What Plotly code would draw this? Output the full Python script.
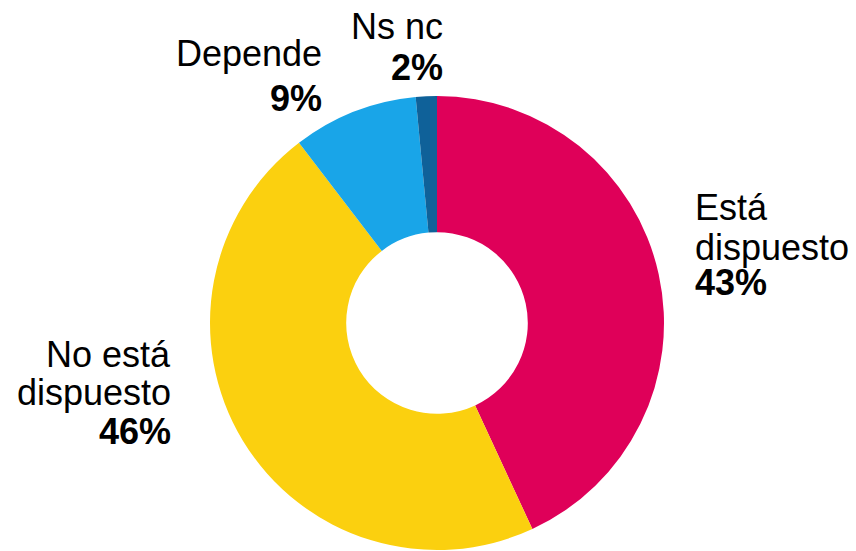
import plotly.graph_objects as go

categories = ["Está dispuesto", "No está dispuesto", "Depende", "Ns nc"]
values = [43.1, 46.5, 8.9, 1.5]
pct_labels = ["43%", "46%", "9%", "2%"]
colors = ["#DF0059", "#FBD00F", "#19A5E8", "#0F6199"]

W, H = 856, 551

fig = go.Figure(go.Pie(
    labels=categories,
    values=values,
    sort=False,
    direction="clockwise",
    rotation=0,
    hole=0.4,
    textinfo="none",
    hoverinfo="label+percent",
    marker=dict(colors=colors, line=dict(color="white", width=0)),
    domain=dict(x=[210 / W, 664 / W], y=[1 / H, 455 / H]),
    showlegend=False,
))

FONT = "Liberation Sans, Arial, sans-serif"
FS = 36

# (text, x_px, y_center_px, anchor, bold)
lines = [
    ("Ns nc", 444, 26, "right", False),
    (pct_labels[3], 444, 68, "right", True),
    ("Depende", 323, 54, "right", False),
    (pct_labels[2], 323, 98, "right", True),
    ("Está", 694, 208, "left", False),
    ("dispuesto", 694, 247, "left", False),
    (pct_labels[0], 694, 282, "left", True),
    ("No está", 172, 354, "right", False),
    ("dispuesto", 172, 392, "right", False),
    (pct_labels[1], 172, 431, "right", True),
]

for text, xp, yp, anchor, bold in lines:
    fig.add_annotation(
        x=xp / W, y=1 - yp / H, xref="paper", yref="paper",
        text=f"<b>{text}</b>" if bold else text,
        showarrow=False, xanchor=anchor, yanchor="middle",
        borderpad=0,
        font=dict(family=FONT, size=FS, color="black"),
    )

fig.update_layout(
    width=W, height=H,
    margin=dict(l=0, r=0, t=0, b=0),
    paper_bgcolor="white", plot_bgcolor="white",
)

fig.write_html(
    "out.html",
    config={"displayModeBar": False},
    post_script="document.body.style.margin='0';document.body.style.padding='0';",
)
